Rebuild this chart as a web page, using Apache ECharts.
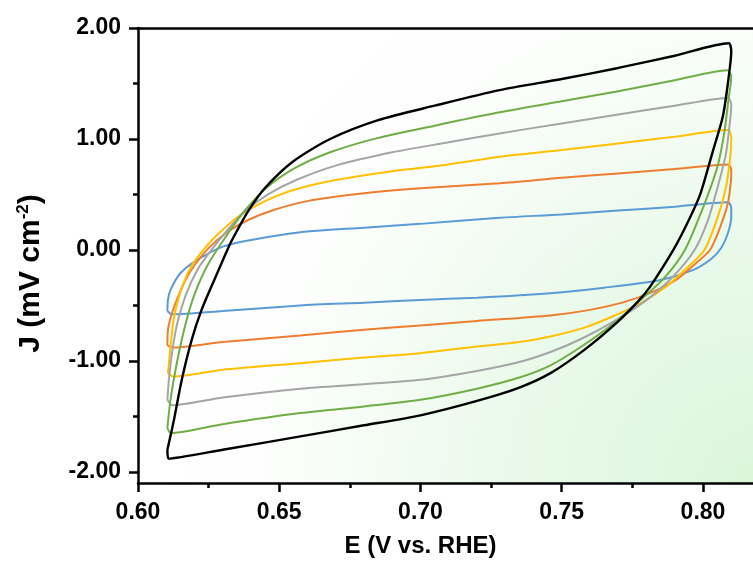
<!DOCTYPE html>
<html><head><meta charset="utf-8">
<script src="https://cdn.jsdelivr.net/npm/echarts@6/dist/echarts.min.js"></script>
<style>html,body{margin:0;padding:0;background:#fff}#c{width:753px;height:568px}</style>
</head><body><div id="c"></div>
<script>
const xTicks = [0.60, 0.65, 0.70, 0.75, 0.80];
const xMinorTicks = [0.625, 0.675, 0.725, 0.775];
const yTicks = [-2, -1, 0, 1, 2];
const yMinorTicks = [-1.5, -0.5, 0.5, 1.5];

const cvBlue = [[0.6104,-0.55],[0.6106,-0.45],[0.6115,-0.36],[0.615,-0.21],[0.621,-0.09],[0.630,0.03],[0.640,0.09],[0.6575,0.16],[0.68,0.20],[0.70,0.235],[0.728,0.29],[0.75,0.32],[0.77,0.355],[0.79,0.39],[0.8089,0.43],
  [0.8100,0.38],[0.8100,0.30],[0.8088,0.15],[0.8065,0.02],[0.803,-0.08],[0.7966,-0.18],[0.785,-0.27],[0.765,-0.34],[0.746,-0.39],[0.72,-0.43],[0.70,-0.45],[0.68,-0.475],[0.6575,-0.50],[0.63,-0.55],[0.612,-0.58],[0.6104,-0.55]];
const cvOrange = [[0.6104,-0.86],[0.6106,-0.72],[0.612,-0.57],[0.6142,-0.42],[0.6168,-0.27],[0.6205,-0.12],[0.6255,0.03],[0.6315,0.16],[0.639,0.27],[0.648,0.36],[0.66,0.44],[0.68,0.51],[0.70,0.555],[0.728,0.60],[0.75,0.65],[0.77,0.69],[0.79,0.73],[0.8089,0.77],
  [0.8100,0.72],[0.8099,0.62],[0.8088,0.42],[0.806,0.20],[0.8025,0.0],[0.797,-0.13],[0.791,-0.26],[0.782,-0.38],[0.772,-0.47],[0.76,-0.54],[0.746,-0.59],[0.72,-0.64],[0.70,-0.68],[0.68,-0.72],[0.6575,-0.77],[0.63,-0.83],[0.6122,-0.88],[0.6104,-0.86]];
const cvYellow = [[0.6106,-1.11],[0.6112,-0.95],[0.6117,-0.82],[0.6128,-0.60],[0.615,-0.38],[0.6186,-0.16],[0.6238,0.02],[0.6295,0.17],[0.636,0.31],[0.645,0.44],[0.655,0.54],[0.67,0.63],[0.69,0.71],[0.71,0.77],[0.728,0.84],[0.75,0.90],[0.77,0.96],[0.79,1.02],[0.8089,1.08],
  [0.8100,1.01],[0.8097,0.85],[0.808,0.55],[0.805,0.28],[0.8005,0.0],[0.794,-0.17],[0.787,-0.33],[0.778,-0.48],[0.768,-0.60],[0.758,-0.70],[0.746,-0.78],[0.735,-0.83],[0.72,-0.87],[0.70,-0.93],[0.68,-0.97],[0.6575,-1.02],[0.63,-1.08],[0.6125,-1.14],[0.6106,-1.11]];
const cvGray = [[0.6104,-1.35],[0.611,-1.15],[0.6122,-0.90],[0.614,-0.65],[0.617,-0.40],[0.621,-0.18],[0.626,0.0],[0.6317,0.18],[0.638,0.35],[0.646,0.50],[0.656,0.63],[0.67,0.76],[0.69,0.88],[0.71,0.97],[0.728,1.05],[0.75,1.14],[0.77,1.22],[0.79,1.30],[0.8089,1.37],
  [0.8100,1.30],[0.8093,1.10],[0.808,0.85],[0.805,0.55],[0.8015,0.25],[0.797,0.0],[0.789,-0.25],[0.779,-0.47],[0.768,-0.65],[0.757,-0.80],[0.746,-0.92],[0.735,-1.01],[0.72,-1.09],[0.70,-1.17],[0.68,-1.21],[0.6575,-1.25],[0.63,-1.33],[0.6122,-1.40],[0.6104,-1.35]];
const cvGreen = [[0.6104,-1.60],[0.6115,-1.35],[0.6135,-1.05],[0.6165,-0.70],[0.620,-0.40],[0.625,-0.12],[0.6327,0.18],[0.638,0.36],[0.645,0.55],[0.655,0.73],[0.668,0.88],[0.685,1.01],[0.705,1.12],[0.728,1.24],[0.75,1.34],[0.77,1.43],[0.79,1.53],[0.8086,1.62],
  [0.8100,1.56],[0.809,1.35],[0.8075,1.05],[0.8051,0.75],[0.800,0.38],[0.7936,0.0],[0.786,-0.26],[0.777,-0.47],[0.768,-0.67],[0.757,-0.87],[0.746,-1.04],[0.735,-1.15],[0.72,-1.25],[0.70,-1.35],[0.68,-1.41],[0.6575,-1.47],[0.63,-1.57],[0.6115,-1.65],[0.6104,-1.60]];
const cvBlack = [[0.6104,-1.80],[0.6125,-1.56],[0.6155,-1.17],[0.619,-0.81],[0.6225,-0.54],[0.627,-0.27],[0.6325,0.05],[0.6352,0.18],[0.639,0.35],[0.645,0.56],[0.655,0.80],[0.668,1.00],[0.685,1.17],[0.705,1.30],[0.728,1.44],[0.75,1.54],[0.77,1.64],[0.79,1.75],[0.8091,1.862],
  [0.8100,1.79],[0.8088,1.50],[0.807,1.20],[0.8036,0.90],[0.799,0.50],[0.795,0.27],[0.7895,0.0],[0.7813,-0.33],[0.7775,-0.45],[0.7697,-0.65],[0.758,-0.90],[0.746,-1.11],[0.735,-1.24],[0.72,-1.36],[0.70,-1.49],[0.68,-1.58],[0.6575,-1.68],[0.63,-1.80],[0.6108,-1.88],[0.6104,-1.80]];

const curves = [cvBlue, cvOrange, cvYellow, cvGray, cvGreen, cvBlack];
const curveNames = ['cv1', 'cv2', 'cv3', 'cv4', 'cv5', 'cv6'];
const curveColors = ['#5b9bd5', '#ed7d31', '#ffc000', '#a5a5a5', '#70ad47', '#000000'];
const curveWidths = [2, 2, 2, 2, 2, 2.4];

const FONT = '"Liberation Sans", Arial, sans-serif';
const X_MIN = 0.6, X_MAX = 0.8177, Y_MIN = -2.1, Y_MAX = 2.0;
const AX = { color: '#000', width: 2.5 };
const tickLabel = { fontSize: 23, fontWeight: 'bold', color: '#000', fontFamily: FONT };

const chart = echarts.init(document.getElementById('c'), null, { renderer: 'canvas' });
chart.setOption({
  animation: false,
  backgroundColor: '#fff',
  grid: {
    left: 138, top: 28, right: 0, bottom: 85,
    outerBoundsMode: 'none',
    show: true, borderWidth: 0,
    backgroundColor: new echarts.graphic.RadialGradient(1, 1, 1.3, [
      { offset: 0, color: '#dbf6db' },
      { offset: 0.45, color: '#ebfaeb' },
      { offset: 0.8, color: '#fcfefc' },
      { offset: 1, color: '#ffffff' }
    ])
  },
  xAxis: [
    {
      type: 'value', min: X_MIN, max: X_MAX, position: 'bottom',
      axisLine: { show: true, onZero: false, lineStyle: AX },
      axisTick: { show: true, inside: false, length: 9, lineStyle: AX, customValues: xTicks },
      axisLabel: { customValues: xTicks, formatter: v => v.toFixed(2), margin: 18, ...tickLabel },
      splitLine: { show: false },
      name: 'E (V vs. RHE)', nameLocation: 'middle', nameGap: 51,
      nameTextStyle: { fontSize: 24, fontWeight: 'bold', color: '#000', fontFamily: FONT, padding: [0, 50, 0, 0] }
    },
    {
      type: 'value', min: X_MIN, max: X_MAX, position: 'bottom',
      axisLine: { show: false, onZero: false },
      axisTick: { show: true, inside: false, length: 5, lineStyle: AX, customValues: xMinorTicks },
      axisLabel: { show: false },
      splitLine: { show: false }
    },
    {
      type: 'value', min: X_MIN, max: X_MAX, position: 'top',
      axisLine: { show: true, onZero: false, lineStyle: AX },
      axisTick: { show: false }, axisLabel: { show: false }, splitLine: { show: false }
    }
  ],
  yAxis: [
    {
      type: 'value', min: Y_MIN, max: Y_MAX, position: 'left',
      axisLine: { show: true, onZero: false, lineStyle: AX },
      axisTick: { show: true, inside: false, length: 9, lineStyle: AX, customValues: yTicks },
      axisLabel: { customValues: yTicks, formatter: v => v.toFixed(2), margin: 17, ...tickLabel },
      splitLine: { show: false },
      name: '{a|J (mV cm}{s|-2}{a|)}', nameLocation: 'middle', nameGap: 91, nameRotate: 90,
      nameTextStyle: {
        padding: [0, 36, 0, 0],
        rich: {
          a: { fontSize: 30, fontWeight: 'bold', color: '#000', fontFamily: FONT },
          s: { fontSize: 17, fontWeight: 'bold', color: '#000', fontFamily: FONT, padding: [0, 0, 15, 0] }
        }
      }
    },
    {
      type: 'value', min: Y_MIN, max: Y_MAX, position: 'left',
      axisLine: { show: false, onZero: false },
      axisTick: { show: true, inside: false, length: 5, lineStyle: AX, customValues: yMinorTicks },
      axisLabel: { show: false },
      splitLine: { show: false }
    }
  ],
  series: curves.map((d, i) => ({
    type: 'line', name: curveNames[i], data: d,
    xAxisIndex: 0, yAxisIndex: 0,
    showSymbol: false, smooth: 0.25,
    lineStyle: { color: curveColors[i], width: curveWidths[i] },
    z: 3 + i
  }))
});
</script></body></html>
